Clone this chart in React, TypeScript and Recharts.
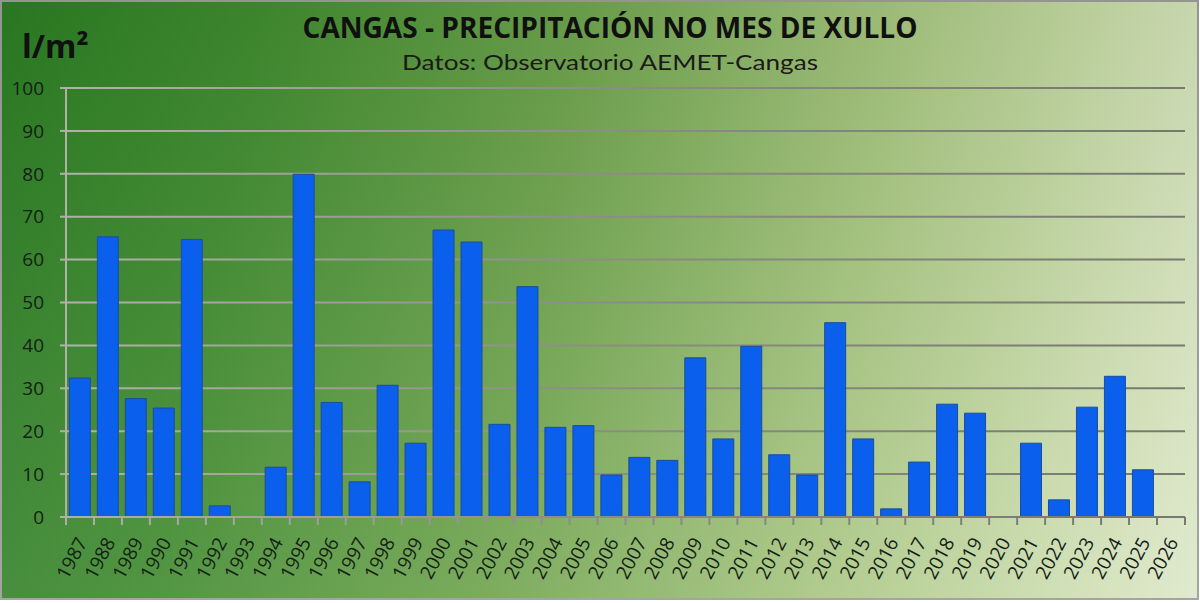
import React from "react";
import { BarChart, Bar, XAxis, YAxis, CartesianGrid } from "recharts";

const years = [
  "1987","1988","1989","1990","1991","1992","1993","1994","1995","1996",
  "1997","1998","1999","2000","2001","2002","2003","2004","2005","2006",
  "2007","2008","2009","2010","2011","2012","2013","2014","2015","2016",
  "2017","2018","2019","2020","2021","2022","2023","2024","2025","2026",
];
const rainfall: (number | null)[] = [
  32.4, 65.3, 27.6, 25.4, 64.7, 2.6, 0, 11.6, 79.9, 26.7,
  8.2, 30.7, 17.2, 66.9, 64.1, 21.6, 53.7, 20.9, 21.3, 9.8,
  13.9, 13.2, 37.1, 18.2, 39.8, 14.5, 9.8, 45.3, 18.2, 1.9,
  12.8, 26.3, 24.2, 0, 17.2, 4.0, 25.6, 32.8, 11.0, null,
];
const yTicks = [0, 10, 20, 30, 40, 50, 60, 70, 80, 90, 100];

const title = "CANGAS - PRECIPITACIÓN NO MES DE XULLO";
const subtitle = "Datos: Observatorio AEMET-Cangas";
const unitLabel = "l/m²";

const data = years.map((y, i) => ({ year: y, value: rainfall[i] }));

const GRID = "url(#gridStroke)";

const XTick = (props: any) => {
  const { x, y, payload, index } = props;
  const half = payload && typeof payload.offset === "number" && payload.offset > 0 ? payload.offset : 14;
  const last = index === years.length - 1;
  const ly = y + 22;
  return (
    <g>
      <line x1={x - half} x2={x - half} y1={y} y2={y + 8} stroke={GRID} strokeWidth={2} />
      {last && <line x1={x + half} x2={x + half} y1={y} y2={y + 8} stroke={GRID} strokeWidth={2} />}
      <text
        x={x + 2}
        y={ly}
        dy="0.35em"
        textAnchor="end"
        transform={`rotate(-62, ${x + 2}, ${ly})`}
        fill="#142014"
        fontSize={19}
        fontFamily="Open Sans, Liberation Sans, sans-serif"
      >
        {payload.value}
      </text>
    </g>
  );
};

export default function App() {
  return (
    <div style={{ position: "absolute", left: 0, top: 0, width: 1200, height: 603, background: "#ffffff" }}>
      <svg width={0} height={0} style={{ position: "absolute" }}>
        <defs>
          <linearGradient id="gridStroke" gradientUnits="userSpaceOnUse" x1="0" y1="0" x2="1200" y2="0">
            <stop offset="0%" stopColor="#b4b6ac" />
            <stop offset="45%" stopColor="#8e9088" />
            <stop offset="100%" stopColor="#76786e" />
          </linearGradient>
        </defs>
      </svg>
      <div
        style={{
          position: "absolute",
          left: 0,
          top: 0,
          width: 1199,
          height: 600,
          boxSizing: "border-box",
          border: "2px solid #9a9a96",
          background:
            "linear-gradient(100deg, #2a7b22 0%, #3f8a2e 20%, #6da24c 45%, #a6c47f 70%, #c9dbab 88%, #dde8c9 100%)",
        }}
      />
      <div
        style={{
          position: "absolute",
          left: 0,
          top: 0,
          width: 1199,
          height: 600,
          background: "linear-gradient(180deg, rgba(0,0,0,0.04) 0%, rgba(255,255,255,0.10) 100%)",
        }}
      />
      <div style={{ position: "absolute", left: 0, top: 0 }}>
        <BarChart
          width={1200}
          height={603}
          data={data}
          margin={{ top: 88, right: 15, bottom: 0, left: 0 }}
          barCategoryGap="12%"
        >
          <CartesianGrid horizontal vertical={false} stroke={GRID} strokeWidth={2} />
          <XAxis
            dataKey="year"
            interval={0}
            height={86}
            tickSize={0}
            tickMargin={0}
            tickLine={false}
            axisLine={{ stroke: GRID, strokeWidth: 2 }}
            tick={<XTick />}
          />
          <YAxis
            domain={[0, 100]}
            ticks={yTicks}
            interval={0}
            width={66}
            tickSize={6}
            tickMargin={16}
            tickLine={{ stroke: GRID, strokeWidth: 2 }}
            axisLine={{ stroke: GRID, strokeWidth: 2 }}
            tick={{ fill: "#142014", fontSize: 19, fontFamily: "Open Sans, Liberation Sans, sans-serif" }}
          />
          <Bar dataKey="value" fill="#0a5fec" stroke="#1c4c9e" strokeWidth={1} isAnimationActive={false} />
        </BarChart>
      </div>
      <svg width={1200} height={603} style={{ position: "absolute", left: 0, top: 0, pointerEvents: "none" }}>
        <text
          x={610}
          y={38}
          textAnchor="middle"
          fontFamily="Open Sans, Liberation Sans, sans-serif"
          fontWeight={700}
          fontSize={28}
          fill="#101010"
          textLength={615}
          lengthAdjust="spacingAndGlyphs"
        >
          {title}
        </text>
        <text
          x={610}
          y={70}
          textAnchor="middle"
          fontFamily="Lato, Open Sans, sans-serif"
          fontWeight={400}
          fontSize={22}
          fill="#1a1a1a"
          textLength={416}
          lengthAdjust="spacingAndGlyphs"
        >
          {subtitle}
        </text>
        <text
          x={22}
          y={58}
          fontFamily="Open Sans, Liberation Sans, sans-serif"
          fontWeight={700}
          fontSize={32}
          fill="#101010"
        >
          {unitLabel}
        </text>
      </svg>
    </div>
  );
}
